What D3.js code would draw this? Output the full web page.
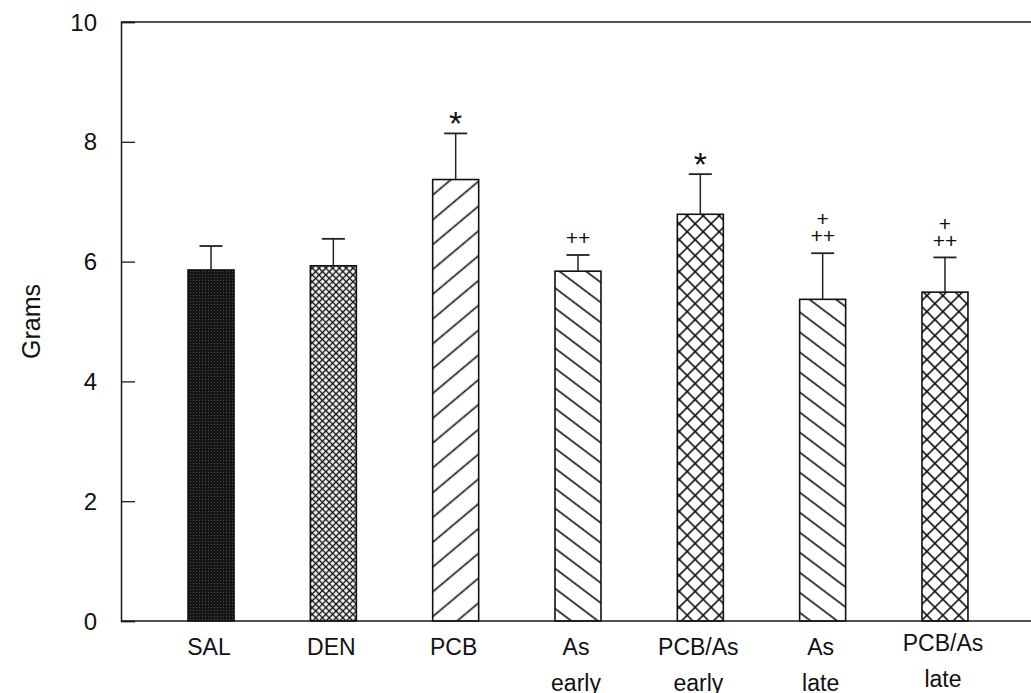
<!DOCTYPE html>
<html>
<head>
<meta charset="utf-8">
<script src="https://cdn.jsdelivr.net/npm/d3@7"></script>
<style>
  html, body { margin: 0; padding: 0; background: #fff; }
  svg { display: block; }
  text { font-family: "Liberation Sans", Arial, sans-serif; fill: #111; }
</style>
</head>
<body>
<svg id="chart" width="1031" height="693"></svg>
<script>
// Group labels (two lines each), mean body weight and error bar extent
const groupLine1 = ["SAL", "DEN", "PCB", "As", "PCB/As", "As", "PCB/As"];
const groupLine2 = ["", "", "", "early", "early", "late", "late"];
const means = [5.86, 5.93, 7.37, 5.84, 6.79, 5.37, 5.49];
const sems  = [0.40, 0.45, 0.77, 0.27, 0.67, 0.77, 0.58];
// Significance markers drawn above each error bar (top line first)
const marks = [[], [], ["*"], ["++"], ["*"], ["+", "++"], ["+", "++"]];
// Fill pattern used for each group
const fills = ["solid", "denseX", "fwd", "back", "sparseX", "back", "sparseX"];
const yTicks = [0, 2, 4, 6, 8, 10];

const svg = d3.select("#chart");
const plotLeft = 121, plotTop = 22, plotBottom = 621, plotRight = 1031;

const x = d3.scaleBand()
  .domain(d3.range(groupLine1.length))
  .range([plotLeft, 1035])
  .paddingInner(0.624)
  .paddingOuter(0.548);

const y = d3.scaleLinear().domain([0, 10]).range([plotBottom, plotTop]);

// ---- fill patterns ----
const defs = svg.append("defs");
const ink = "#111";

function hatch(id, size, angle, strokeW) {
  const p = defs.append("pattern")
    .attr("id", id)
    .attr("patternUnits", "userSpaceOnUse")
    .attr("width", size).attr("height", size)
    .attr("patternTransform", `rotate(${angle})`);
  p.append("rect").attr("width", size).attr("height", size).attr("fill", "#fff");
  p.append("line").attr("x1", 0).attr("x2", size).attr("y1", size / 2).attr("y2", size / 2)
    .attr("stroke", ink).attr("stroke-width", strokeW);
}
function cross(id, size, strokeW) {
  const p = defs.append("pattern")
    .attr("id", id)
    .attr("patternUnits", "userSpaceOnUse")
    .attr("width", size).attr("height", size)
    .attr("patternTransform", "rotate(45)");
  p.append("rect").attr("width", size).attr("height", size).attr("fill", "#fff");
  p.append("line").attr("x1", 0).attr("x2", size).attr("y1", size / 2).attr("y2", size / 2)
    .attr("stroke", ink).attr("stroke-width", strokeW);
  p.append("line").attr("y1", 0).attr("y2", size).attr("x1", size / 2).attr("x2", size / 2)
    .attr("stroke", ink).attr("stroke-width", strokeW);
}
// dark stippled fill
(function () {
  const p = defs.append("pattern")
    .attr("id", "solid")
    .attr("patternUnits", "userSpaceOnUse")
    .attr("width", 3).attr("height", 3);
  p.append("rect").attr("width", 3).attr("height", 3).attr("fill", "#161616");
  p.append("rect").attr("x", 1).attr("y", 1).attr("width", 1).attr("height", 1).attr("fill", "#4a4a4a");
})();
cross("denseX", 4.8, 1.4);
cross("sparseX", 11.3, 1.6);
hatch("fwd", 19, -40, 1.6);
hatch("back", 16, 37, 1.6);

// ---- bars ----
const g = svg.append("g");
g.selectAll("rect.bar")
  .data(means)
  .join("rect")
  .attr("class", "bar")
  .attr("x", (d, i) => x(i))
  .attr("y", d => y(d))
  .attr("width", x.bandwidth())
  .attr("height", d => y(0) - y(d))
  .attr("fill", (d, i) => `url(#${fills[i]})`)
  .attr("stroke", ink)
  .attr("stroke-width", 1.6);

// ---- error bars (upper only) ----
const capHalf = 11.5;
means.forEach((m, i) => {
  const cx = x(i) + x.bandwidth() / 2;
  const yTop = y(m + sems[i]);
  g.append("line")
    .attr("x1", cx).attr("x2", cx)
    .attr("y1", y(m)).attr("y2", yTop)
    .attr("stroke", "#222").attr("stroke-width", 1.5);
  g.append("line")
    .attr("x1", cx - capHalf).attr("x2", cx + capHalf)
    .attr("y1", yTop).attr("y2", yTop)
    .attr("stroke", "#222").attr("stroke-width", 1.8);

  // significance markers stacked above the cap, one text element per bar
  const lines = marks[i];
  if (!lines.length) return;
  if (lines[0] === "*") {
    g.append("text")
      .attr("x", cx).attr("y", yTop - 17 + 0.56 * 34)
      .attr("text-anchor", "middle")
      .style("font-size", "34px")
      .text("*");
  } else {
    const txt = g.append("text")
      .attr("text-anchor", "middle")
      .style("font-size", "21px");
    lines.forEach((t, k) => {
      const level = lines.length - k;        // 1 = nearest to the cap
      txt.append("tspan")
        .attr("x", cx)
        .attr("y", yTop - 17 * level + 0.34 * 21)
        .text(t);
    });
  }
});

// ---- frame and axes ----
const axisColor = "#1a1a1a";
svg.append("line")
  .attr("x1", plotLeft).attr("x2", plotRight).attr("y1", plotTop).attr("y2", plotTop)
  .attr("stroke", axisColor).attr("stroke-width", 1.5);
svg.append("line")
  .attr("x1", plotLeft).attr("x2", plotRight).attr("y1", plotBottom).attr("y2", plotBottom)
  .attr("stroke", axisColor).attr("stroke-width", 1.5);

const yAxis = svg.append("g")
  .attr("transform", `translate(${plotLeft},0)`)
  .call(d3.axisRight(y).tickValues(yTicks).tickSize(14).tickFormat(""));
yAxis.select(".domain").attr("stroke", axisColor).attr("stroke-width", 1.5);
yAxis.selectAll(".tick line").attr("stroke", axisColor).attr("stroke-width", 1.3);

// tick labels to the left of the axis line
svg.append("g").selectAll("text")
  .data(yTicks)
  .join("text")
  .attr("x", 97)
  .attr("y", d => y(d) + 8.5)
  .attr("text-anchor", "end")
  .style("font-size", "24px")
  .text(d => d);

// category labels
const xl = svg.append("g");
groupLine1.forEach((t, i) => {
  const cx = x(i) + x.bandwidth() / 2;
  const base = i === 6 ? 651 : 655;
  xl.append("text")
    .attr("x", cx - 2).attr("y", base)
    .attr("text-anchor", "middle")
    .style("font-size", "23px")
    .text(t);
  if (groupLine2[i]) {
    xl.append("text")
      .attr("x", cx - 2).attr("y", base + 36)
      .attr("text-anchor", "middle")
      .style("font-size", "23px")
      .text(groupLine2[i]);
  }
});

// y axis title
svg.append("text")
  .attr("transform", `translate(40,${(plotTop + plotBottom) / 2}) rotate(-90)`)
  .attr("text-anchor", "middle")
  .style("font-size", "25px")
  .text("Grams");
</script>
</body>
</html>
